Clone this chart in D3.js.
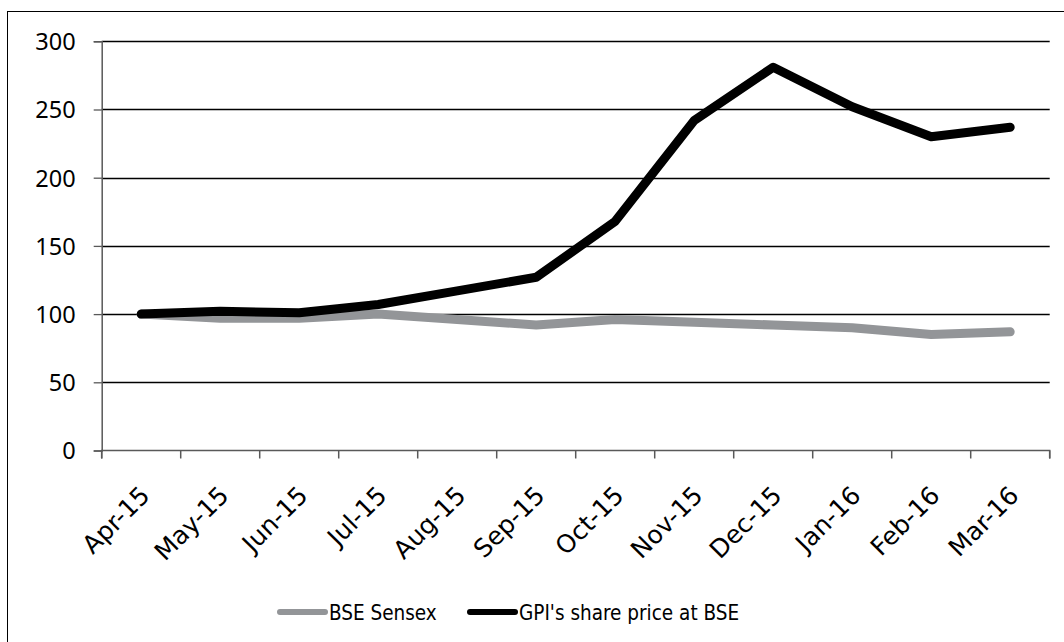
<!DOCTYPE html>
<html>
<head>
<meta charset="utf-8">
<script src="https://cdn.jsdelivr.net/npm/d3@7"></script>
<style>
  html, body { margin: 0; padding: 0; background: #fff; }
  svg { display: block; }
</style>
</head>
<body>
<svg id="chart" width="1064" height="642"></svg>
<script>
const categories = ["Apr-15","May-15","Jun-15","Jul-15","Aug-15","Sep-15","Oct-15","Nov-15","Dec-15","Jan-16","Feb-16","Mar-16"];
const sensex = [100, 97, 97, 100, 96, 92, 96, 94, 92, 90, 85, 87];
const gpi = [100, 102, 101, 107, 117, 127, 168, 242, 281, 252, 230, 237];
const yTicks = [0, 50, 100, 150, 200, 250, 300];
const seriesNames = ["BSE Sensex", "GPI's share price at BSE"];
const seriesColors = ["#939598", "#000000"];

const svg = d3.select("#chart");

// outer frame
svg.append("rect").attr("x", 7.5).attr("y", 11.5).attr("width", 1100).attr("height", 700)
  .attr("fill", "none").attr("stroke", "#000").attr("stroke-width", 1);

const x = d3.scaleBand().domain(categories).range([101.7, 1049.7]).padding(0);
const y = d3.scaleLinear().domain([0, 300]).range([450.5, 41.3]);
const cx = d => x(d) + x.bandwidth() / 2;

// gridlines
svg.append("g").selectAll("line").data(yTicks.filter(t => t > 0)).join("line")
  .attr("x1", 101.7).attr("x2", 1049.7)
  .attr("y1", d => Math.round(y(d)) + 0.5).attr("y2", d => Math.round(y(d)) + 0.5)
  .attr("stroke", "#000").attr("stroke-width", 1.3);

// y axis
const yAxis = d3.axisLeft(y).tickValues(yTicks).tickSize(8).tickPadding(18).tickFormat(d3.format("d"));
const gy = svg.append("g").attr("transform", "translate(101.7,0)").call(yAxis);
gy.select(".domain").attr("stroke", "#595959").attr("stroke-width", 1.5);
gy.selectAll(".tick line").attr("stroke", "#595959").attr("stroke-width", 1.3);
gy.selectAll(".tick text").attr("font-family", "'Noto Sans', sans-serif").attr("font-size", 23.5)
  .attr("fill", "#000").attr("dy", "0.36em");

// x axis
const xAxis = d3.axisBottom(x).tickSize(8).tickFormat("");
const gx = svg.append("g").attr("transform", "translate(0,450.5)").call(xAxis);
gx.selectAll(".tick").remove();
gx.select(".domain").attr("stroke", "#595959").attr("stroke-width", 1.5).attr("d", "M101.7,8V0H1049.7V8");
const tickPos = categories.map(c => x(c)).concat([x.range()[1]]);
gx.append("g").selectAll("line").data(tickPos).join("line")
  .attr("x1", d => d).attr("x2", d => d).attr("y1", 0).attr("y2", 8)
  .attr("stroke", "#595959").attr("stroke-width", 1.5);

// x labels
svg.append("g").selectAll("text").data(categories).join("text")
  .attr("transform", d => `translate(${cx(d) + 10},${497}) rotate(-45)`)
  .attr("text-anchor", "end")
  .attr("font-family", "'DejaVu Sans', sans-serif").attr("font-size", 25)
  .attr("fill", "#000")
  .text(d => d);

// lines
const line = d3.line().x((d, i) => cx(categories[i])).y(d => y(d));
[sensex, gpi].forEach((s, k) => {
  svg.append("path").datum(s).attr("d", line)
    .attr("fill", "none").attr("stroke", seriesColors[k]).attr("stroke-width", 9)
    .attr("stroke-linejoin", "round").attr("stroke-linecap", "round");
});

// legend
const legendItems = [{x1: 280, x2: 325, tx: 329}, {x1: 470, x2: 515, tx: 519}];
const lg = svg.append("g");
legendItems.forEach((it, k) => {
  lg.append("line").attr("x1", it.x1).attr("x2", it.x2).attr("y1", 612).attr("y2", 612)
    .attr("stroke", seriesColors[k]).attr("stroke-width", 6).attr("stroke-linecap", "round");
  lg.append("text").attr("x", it.tx).attr("y", 619.5)
    .attr("font-family", "'DejaVu Sans Condensed', 'DejaVu Sans', sans-serif")
    .attr("font-stretch", "condensed")
    .attr("font-size", 20.5).attr("fill", "#000").text(seriesNames[k]);
});
</script>
</body>
</html>
